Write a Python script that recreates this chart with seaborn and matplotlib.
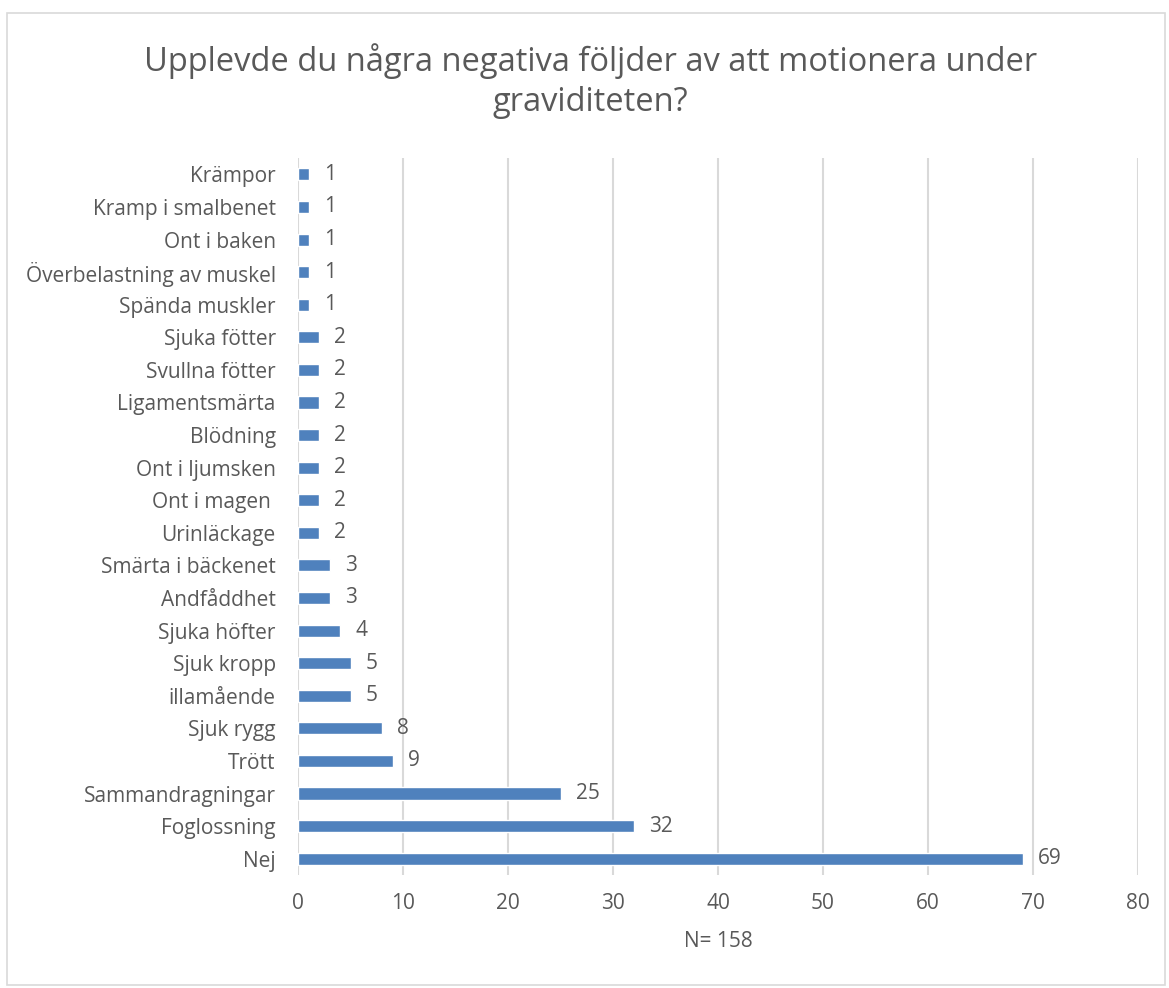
import matplotlib
matplotlib.use("Agg")
import matplotlib.pyplot as plt
import seaborn as sns
from matplotlib.patches import Rectangle

# --- Data (top to bottom as shown in the chart) ---
categories = [
    "Krämpor", "Kramp i smalbenet", "Ont i baken", "Överbelastning av muskel",
    "Spända muskler", "Sjuka fötter", "Svullna fötter", "Ligamentsmärta",
    "Blödning", "Ont i ljumsken", "Ont i magen ", "Urinläckage",
    "Smärta i bäckenet", "Andfåddhet", "Sjuka höfter", "Sjuk kropp",
    "illamående", "Sjuk rygg", "Trött", "Sammandragningar", "Foglossning", "Nej",
]
counts = [1, 1, 1, 1, 1, 2, 2, 2, 2, 2, 2, 2, 3, 3, 4, 5, 5, 8, 9, 25, 32, 69]
x_ticks = [0, 10, 20, 30, 40, 50, 60, 70, 80]

title = "Upplevde du några negativa följder av att motionera under\ngraviditeten?"
x_label = "N= 158"

BAR_COLOR = "#4F81BD"
TEXT_COLOR = "#595959"
GRID_COLOR = "#D9D9D9"

sns.set_style("white")
plt.rcParams["font.family"] = ["Open Sans", "DejaVu Sans"]

fig = plt.figure(figsize=(11.69, 9.88), dpi=100)
ax = fig.add_axes([0.255, 0.1144, 0.7185, 0.7256])

sns.barplot(x=counts, y=categories, orient="h", color=BAR_COLOR,
            width=0.37, saturation=1, ax=ax)

ax.set_xlim(0, 80)
ax.set_xticks(x_ticks)
ax.xaxis.grid(True, color=GRID_COLOR, linewidth=1.5)
ax.set_axisbelow(True)
for s in ax.spines.values():
    s.set_visible(False)

ax.tick_params(axis="y", length=0, pad=16, labelsize=15, labelcolor=TEXT_COLOR)
ax.tick_params(axis="x", length=0, pad=13, labelsize=15, labelcolor=TEXT_COLOR)
ax.set_ylabel("")
ax.set_xlabel(x_label, fontsize=15, color=TEXT_COLOR, labelpad=12)

# value labels
for i, v in enumerate(counts):
    ax.annotate(str(v), xy=(v, i), xytext=(11, 0), textcoords="offset points",
                va="center", ha="left", fontsize=15, color=TEXT_COLOR)

fig.text(0.505, 0.918, title, ha="center", va="center", fontsize=23.5,
         color=TEXT_COLOR, linespacing=1.3)

# chart area border
fig.patches.append(Rectangle((0.006, 0.003), 0.991, 0.984, transform=fig.transFigure,
                             fill=False, edgecolor=GRID_COLOR, linewidth=1.2))

fig.savefig("out.png", dpi=100)
